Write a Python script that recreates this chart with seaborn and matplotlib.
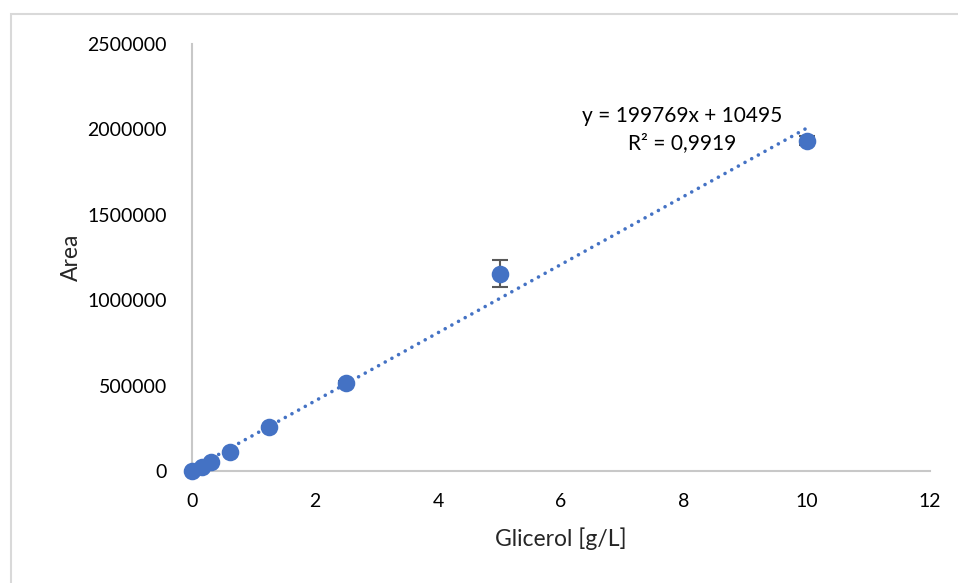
import matplotlib
matplotlib.use("Agg")
import matplotlib.pyplot as plt
import matplotlib.ticker as mticker
from matplotlib.patches import Rectangle
import seaborn as sns
import pandas as pd
import numpy as np

# Data
glicerol = [0.0, 0.15625, 0.3125, 0.625, 1.25, 2.5, 5.0, 10.0]
area = [0, 25000, 55000, 110000, 255000, 515000, 1155000, 1935000]
area_err = [3000, 4000, 5000, 6000, 8000, 10000, 78000, 28000]
slope = 199769
intercept = 10495
r2_text = "0,9919"
x_ticks = [0, 2, 4, 6, 8, 10, 12]
y_ticks = [0, 500000, 1000000, 1500000, 2000000, 2500000]

sns.set_theme(style="white")
plt.rcParams['font.family'] = ['Lato', 'DejaVu Sans']

W, H = 958, 583
fig = plt.figure(figsize=(W / 100, H / 100), dpi=100)
ax = fig.add_axes([192 / W, 1 - 471 / H, (930 - 192) / W, (471 - 44) / H])

# Figure border (chart area frame)
fig.patches.append(Rectangle((11 / W, -0.1), 1.2, 1 - 14 / H + 0.1, transform=fig.transFigure,
                             fill=False, edgecolor="#d9d9d9", linewidth=1.5, zorder=0))

blue = "#4472C4"
df = pd.DataFrame({"Glicerol": glicerol, "Area": area, "err": area_err})

# Trendline
tx = np.array([0.0, max(glicerol)])
trend = pd.DataFrame({"x": tx, "y": slope * tx + intercept})
sns.lineplot(data=trend, x="x", y="y", ax=ax, color=blue, linewidth=2.6,
             linestyle=(0, (0.01, 2.1)), zorder=2)
for l in ax.lines:
    l.set_dash_capstyle("round")
    l.set_clip_on(False)

eb = ax.errorbar(df["Glicerol"], df["Area"], yerr=df["err"], fmt="none", ecolor="#595959",
                 elinewidth=1.5, capsize=6, capthick=1.5, zorder=3)
for art in eb.get_children():
    art.set_clip_on(False)
sns.scatterplot(data=df, x="Glicerol", y="Area", ax=ax, color=blue, s=160,
                edgecolor=blue, linewidth=0, zorder=4)
for c in ax.collections:
    c.set_clip_on(False)

ax.set_xlim(0, 12)
ax.set_ylim(0, 2500000)
ax.set_xticks(x_ticks)
ax.set_yticks(y_ticks)
ax.yaxis.set_major_formatter(mticker.FuncFormatter(lambda v, p: f"{int(v)}"))
ax.xaxis.set_major_formatter(mticker.FuncFormatter(lambda v, p: f"{int(v)}"))
ax.tick_params(axis="both", length=0, labelsize=14, colors="#000000")
ax.tick_params(axis="y", pad=18)
ax.tick_params(axis="x", pad=16)

for s in ["top", "right"]:
    ax.spines[s].set_visible(False)
for s in ["left", "bottom"]:
    ax.spines[s].set_color("#c8c8c8")
    ax.spines[s].set_linewidth(1.5)
    ax.spines[s].set_zorder(1)
ax.grid(False)

ax.set_xlabel("Glicerol [g/L]", fontsize=16.5, color="#262626", labelpad=12)
ax.set_ylabel("Area", fontsize=16.5, color="#262626", labelpad=4)

ax.text(682 / W, 1 - 116 / H, f"y = {slope}x + {intercept}", transform=fig.transFigure,
        ha="center", va="center", fontsize=15, color="#000000")
ax.text(682 / W, 1 - 143 / H, f"R² = {r2_text}", transform=fig.transFigure,
        ha="center", va="center", fontsize=15, color="#000000")

fig.savefig("out.png", dpi=100)
